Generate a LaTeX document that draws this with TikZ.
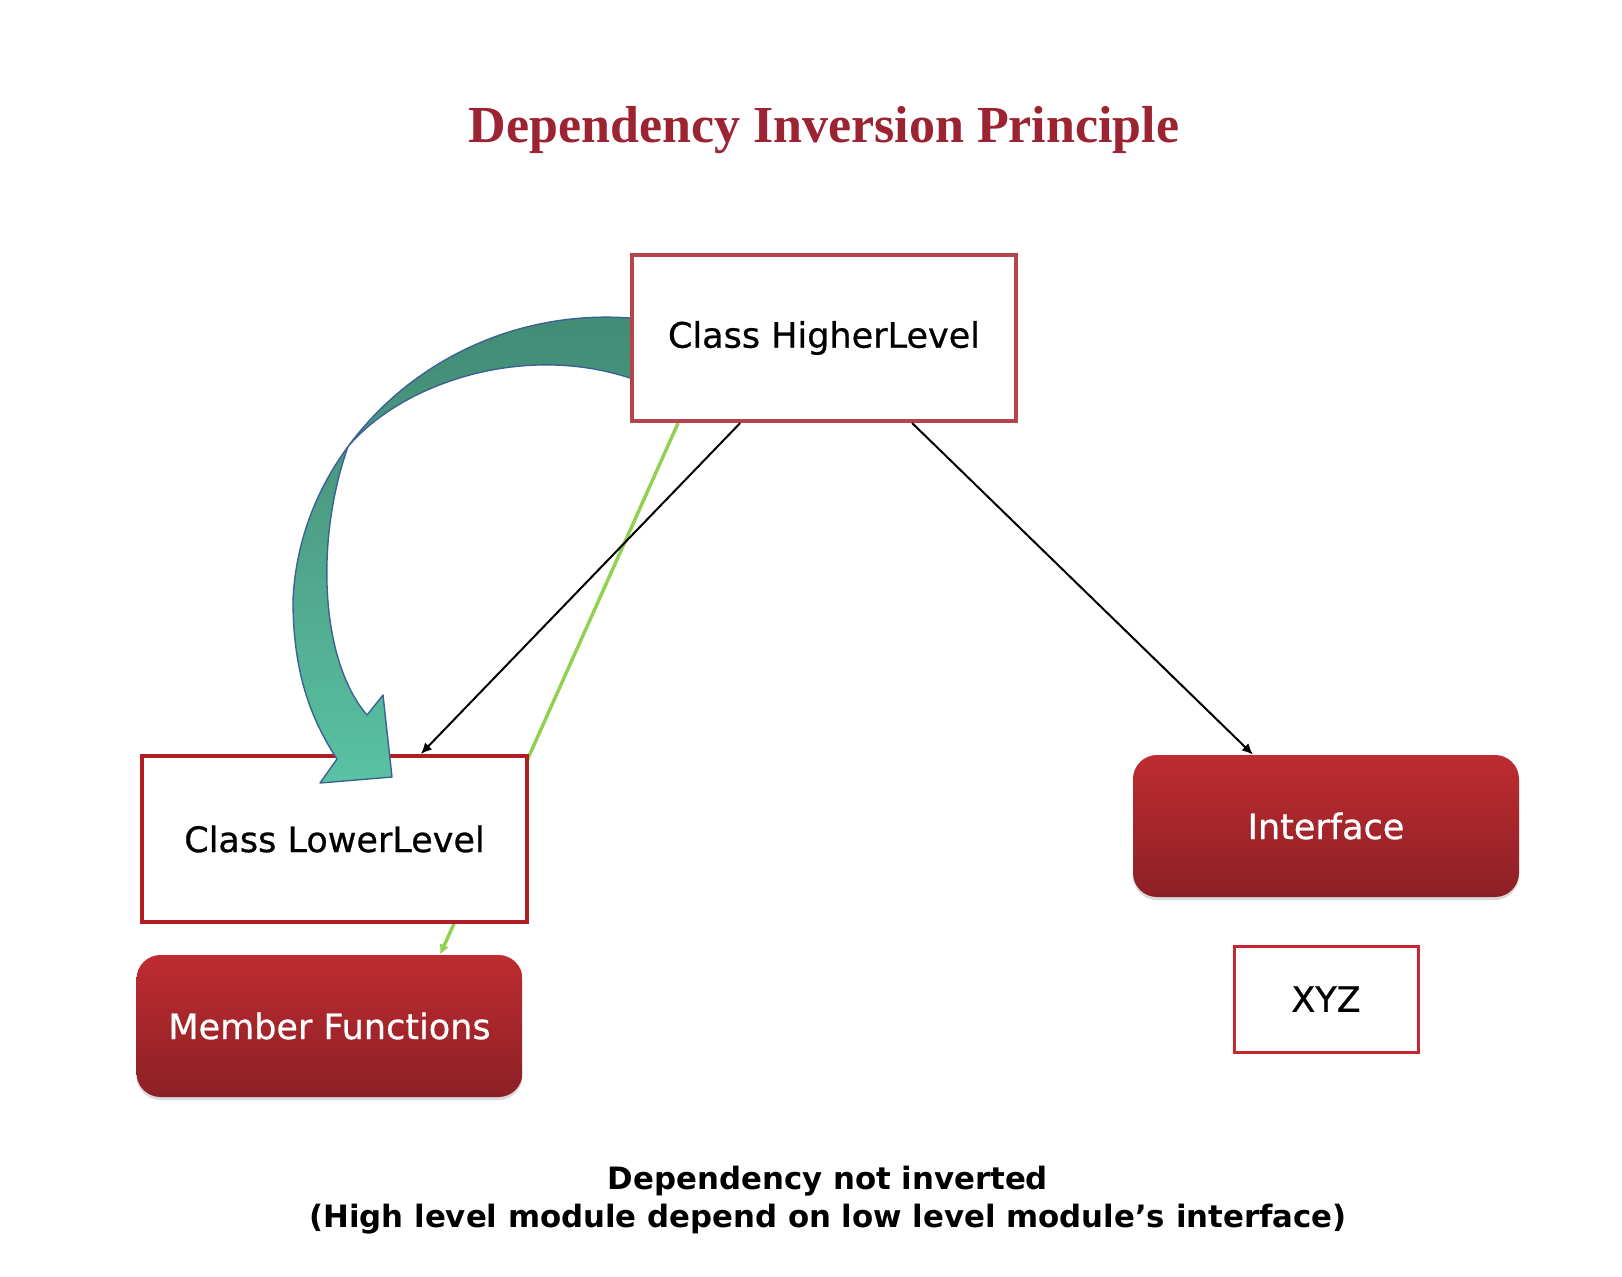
\documentclass[tikz,border=0pt]{standalone}
\usepackage{fontspec}
\newfontfamily\boxfont{DejaVu Sans}[FakeBold=0.7]
\newfontfamily\capfont{DejaVu Sans}
\newfontfamily\titlefont{Liberation Serif}
\usetikzlibrary{arrows.meta,shadows,calc}
\definecolor{titlered}{RGB}{155,35,50}
\definecolor{hlred}{RGB}{182,66,78}
\definecolor{llred}{RGB}{176,30,36}
\definecolor{xyzred}{RGB}{196,40,46}
\definecolor{redtop}{RGB}{190,44,49}
\definecolor{redbot}{RGB}{140,32,38}
\definecolor{lgreen}{RGB}{146,208,80}
\definecolor{tealdark}{RGB}{66,140,118}
\definecolor{tealmid}{RGB}{74,150,126}
\definecolor{teallight}{RGB}{90,194,163}
\definecolor{tealedge}{RGB}{58,98,148}
\pgfdeclarelayer{back}
\pgfdeclarelayer{mid}
\pgfsetlayers{back,mid,main}
\begin{document}
\begin{tikzpicture}[x=0.5pt,y=-0.5pt,
  plainbox/.style={draw, line width=2pt, fill=white, inner sep=0pt,
    font=\boxfont\fontsize{17.5}{21}\selectfont},
  redbox/.style={rounded corners=12pt, top color=redtop, bottom color=redbot,
    draw=none, inner sep=0pt, minimum width=193pt, minimum height=71pt,
    text=white, font=\boxfont\fontsize{17.5}{21}\selectfont,
    drop shadow={shadow xshift=0pt, shadow yshift=-1.5pt, opacity=0.15, fill=black}},
  blackarrow/.style={line width=1pt, -{Latex[length=5.5pt,width=5pt]}},
  greenarrow/.style={line width=1.7pt, draw=lgreen, -{Latex[length=5pt,width=5pt]}},
  bandedge/.style={draw=tealedge, line width=0.7pt, line join=round}
]
\useasboundingbox (0,0) rectangle (1622,1276);
\begin{pgfonlayer}{back}
\fill[white] (0,0) rectangle (1622,1276);
\end{pgfonlayer}

% title
\node[font=\titlefont\bfseries\fontsize{26}{30}\selectfont, text=titlered, anchor=base] (title) at (824,142) {Dependency Inversion Principle};

% boxes
\begin{pgfonlayer}{mid}
\node[plainbox, draw=llred, minimum width=192.5pt, minimum height=83pt] (ll) at (334.5,839) {Class LowerLevel};
\end{pgfonlayer}
\node[plainbox, draw=hlred, minimum width=192pt, minimum height=83pt] (hl) at (824,338) {Class HigherLevel};
\node[redbox] (mf) at (329.5,1026) {Member Functions};
\node[redbox] (int) at (1326,826) {Interface};
\node[plainbox, draw=xyzred, line width=1.5pt, minimum width=92pt, minimum height=53pt] (xyz) at (1326,999) {XYZ};

% curved block arrow
\begin{pgfonlayer}{mid}
\path[bandedge, top color=tealmid, bottom color=teallight]
  (348,446.6) .. controls (315.2,491) and (295.5,544) .. (293,600)
  .. controls (293,680) and (315,725) .. (337,759)
  -- (320,783) -- (392,777) -- (383,695) -- (367,715)
  .. controls (320,660) and (315,540) .. (348,446.6) -- cycle;
\path[bandedge, top color=tealdark, bottom color=tealmid]
  (660,322) -- (630,318) .. controls (513,309.6) and (408.7,363.7) .. (348,446.6)
  .. controls (400,385) and (520,342) .. (630,378) -- (660,392) -- cycle;
\end{pgfonlayer}

% connectors
\begin{pgfonlayer}{back}
\draw[greenarrow] ($(hl.south west)!0.124!(hl.south east)$) -- ($(mf.north west)!0.786!(mf.north east)$);
\end{pgfonlayer}
\draw[blackarrow] ($(hl.south west)!0.284!(hl.south east)$) -- ($(ll.north west)!0.722!(ll.north east)$);
\draw[blackarrow] ($(hl.south west)!0.727!(hl.south east)$) -- ($(int.north west)!0.311!(int.north east)$);

% caption
\node[font=\capfont\bfseries\fontsize{15.4}{19}\selectfont, anchor=base] (cap1) at (828,1189) {Dependency not inverted};
\node[font=\capfont\bfseries\fontsize{15.4}{19}\selectfont, anchor=base] (cap2) at (828,1227) {(High level module depend on low level module’s interface)};
\end{tikzpicture}
\end{document}
